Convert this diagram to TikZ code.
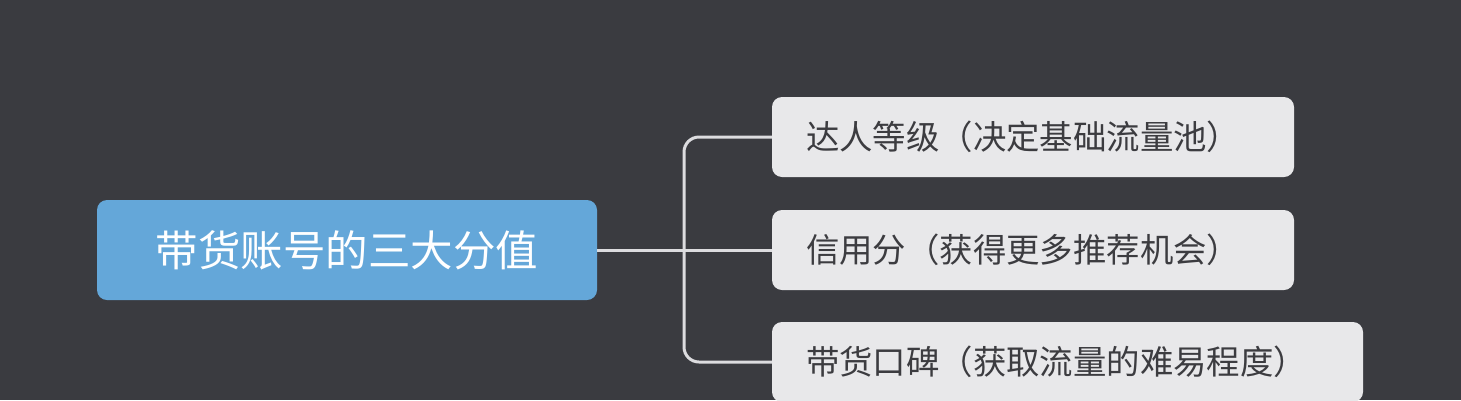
\documentclass[tikz,border=0pt]{standalone}
\usepackage{fontspec}
\newfontfamily\cjk{Noto Sans CJK SC}
\definecolor{bg}{HTML}{3A3B40}
\definecolor{rootfill}{HTML}{64A7D9}
\definecolor{childfill}{HTML}{E8E8EA}
\definecolor{childtext}{HTML}{3C3C40}
\definecolor{linkcol}{HTML}{DCDCDF}
\begin{document}
\begin{tikzpicture}[x=1pt,y=-1pt,
  rootbox/.style={rectangle, rounded corners=10pt, fill=rootfill, text=white,
    minimum width=500pt, minimum height=100pt, inner sep=0pt,
    font=\cjk\fontsize{42.5}{50}\selectfont},
  childbox/.style={rectangle, rounded corners=10pt, fill=childfill, text=childtext,
    minimum height=80pt, inner xsep=34pt, inner ysep=0pt, align=left,
    font=\cjk\fontsize{33.4}{40}\selectfont},
  link/.style={draw=linkcol, line width=3pt, rounded corners=15pt}]
\fill[bg] (0,0) rectangle (1461,400);
\useasboundingbox (0,0) rectangle (1461,400);
\node[rootbox] (root) at (347,250) {带货账号的三大分值};
\node[childbox, text width=454pt] (c1) at (1033,137) {达人等级（决定基础流量池）};
\node[childbox, text width=454pt] (c2) at (1033,250) {信用分（获得更多推荐机会）};
\node[childbox, text width=523pt] (c3) at (1067.5,362) {带货口碑（获取流量的难易程度）};
\coordinate (bus) at (684,250);
\draw[link] (root.east) -- (c2.west);
\draw[link] (c1.west) -| (bus) |- (c3.west);
\end{tikzpicture}
\end{document}
